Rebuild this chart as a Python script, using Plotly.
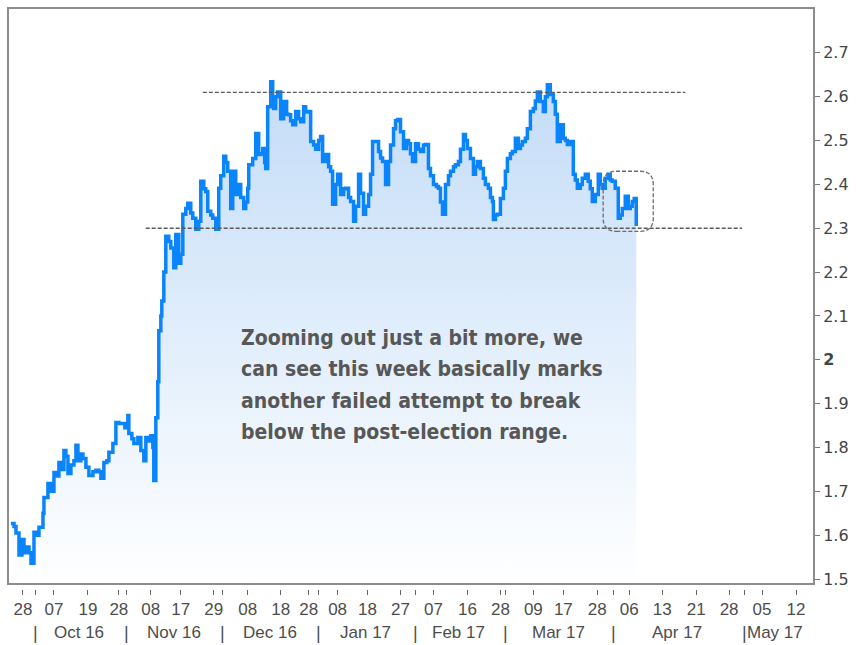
import plotly.graph_objects as go

# ---- data: US 10y yield, x = trading-session index from late Sep 2016 ----
sessions = [
    0.45, 1.14, 1.59, 2.27, 2.95, 3.41, 3.86, 4.55, 5.0, 5.68,
    6.14, 6.82, 7.73, 7.95, 8.86, 9.55, 10.23, 10.68, 11.36, 11.82,
    12.5, 12.95, 13.41, 14.09, 14.77, 15.23, 15.68, 16.36, 16.82, 17.5,
    18.18, 19.09, 19.77, 20.45, 20.91, 21.59, 22.27, 22.73, 23.64, 24.32,
    25.0, 25.45, 26.36, 27.05, 27.27, 27.95, 28.41, 29.32, 30.0, 30.68,
    31.14, 31.82, 32.27, 32.73, 32.95, 33.41, 33.86, 34.09, 34.55, 34.77,
    35.23, 35.68, 36.36, 36.82, 37.5, 37.95, 38.64, 39.09, 39.55, 40.23,
    40.68, 41.36, 41.82, 42.5, 43.18, 43.64, 44.32, 44.77, 45.23, 45.91,
    46.36, 47.05, 47.73, 48.18, 48.86, 49.32, 49.77, 50.45, 50.91, 51.59,
    52.27, 52.73, 53.41, 53.86, 54.32, 54.55, 55.45, 56.14, 56.82, 57.27,
    57.73, 58.18, 58.41, 58.86, 59.55, 60.0, 60.23, 60.68, 61.14, 61.82,
    62.5, 63.18, 63.64, 64.09, 64.55, 65.23, 65.91, 66.36, 67.05, 67.5,
    67.95, 68.64, 69.32, 69.77, 70.45, 70.91, 71.36, 72.05, 72.73, 73.18,
    73.64, 74.32, 74.77, 75.45, 76.14, 76.59, 77.27, 77.73, 78.41, 78.86,
    79.55, 80.0, 80.68, 81.14, 81.82, 82.27, 82.73, 83.41, 84.09, 84.55,
    85.0, 85.68, 86.36, 86.82, 87.5, 87.95, 88.41, 89.09, 89.77, 90.45,
    90.91, 91.36, 91.82, 92.5, 93.18, 93.64, 94.32, 94.77, 95.45, 95.91,
    96.59, 97.27, 97.73, 98.18, 98.64, 99.32, 100.0, 100.45, 101.14, 101.59,
    102.27, 102.73, 103.41, 103.86, 104.32, 105.0, 105.68, 106.14, 106.59, 107.27,
    107.95, 108.41, 109.09, 109.55, 110.0, 110.23, 110.68, 111.14, 111.82, 112.5,
    112.95, 113.41, 114.09, 114.55, 115.23, 115.91, 116.36, 116.82, 117.5, 117.95,
    118.64, 119.32, 119.77, 120.23, 120.91, 121.59, 122.05, 122.5, 123.18, 123.86,
    124.32, 124.77, 125.45, 126.14, 126.59, 127.05, 127.73, 128.41, 128.86, 129.32,
    130.0, 130.45, 131.14, 131.82, 132.27, 132.73, 133.41, 134.09, 134.55, 135.0,
    135.68, 136.36, 136.82, 137.27, 137.95, 138.64, 139.09, 139.55, 140.23, 140.91,
    141.36, 141.82, 142.27, 142.73,
]
yields = [
    1.627, 1.62, 1.605, 1.555, 1.59, 1.56, 1.573, 1.56, 1.536, 1.607,
    1.60, 1.618, 1.65, 1.686, 1.718, 1.70, 1.743, 1.735, 1.766, 1.75,
    1.793, 1.78, 1.741, 1.76, 1.77, 1.805, 1.77, 1.785, 1.775, 1.755,
    1.736, 1.745, 1.748, 1.745, 1.73, 1.766, 1.77, 1.789, 1.809, 1.857,
    1.855, 1.855, 1.845, 1.873, 1.832, 1.82, 1.809, 1.823, 1.793, 1.77,
    1.823, 1.815, 1.827, 1.80, 1.725, 1.868, 1.95, 2.066, 2.10, 2.134,
    2.2, 2.282, 2.27, 2.255, 2.21, 2.286, 2.22, 2.241, 2.332, 2.345,
    2.357, 2.335, 2.323, 2.298, 2.316, 2.407, 2.39, 2.384, 2.339, 2.33,
    2.323, 2.298, 2.391, 2.42, 2.464, 2.45, 2.43, 2.345, 2.43, 2.377,
    2.4, 2.37, 2.345, 2.36, 2.391, 2.445, 2.459, 2.516, 2.468, 2.47,
    2.482, 2.45, 2.436, 2.577, 2.634, 2.59, 2.573, 2.60, 2.611, 2.55,
    2.589, 2.56, 2.559, 2.545, 2.536, 2.566, 2.55, 2.543, 2.577, 2.565,
    2.566, 2.498, 2.49, 2.48, 2.50, 2.509, 2.452, 2.468, 2.44, 2.43,
    2.355, 2.40, 2.423, 2.377, 2.39, 2.391, 2.37, 2.361, 2.316, 2.35,
    2.423, 2.38, 2.332, 2.35, 2.377, 2.423, 2.498, 2.498, 2.475, 2.46,
    2.452, 2.40, 2.452, 2.49, 2.527, 2.545, 2.548, 2.52, 2.482, 2.50,
    2.493, 2.47, 2.452, 2.493, 2.48, 2.475, 2.49, 2.491, 2.436, 2.42,
    2.40, 2.395, 2.391, 2.36, 2.332, 2.40, 2.42, 2.43, 2.44, 2.445,
    2.452, 2.48, 2.514, 2.50, 2.482, 2.459, 2.423, 2.44, 2.452, 2.436,
    2.414, 2.40, 2.391, 2.37, 2.361, 2.32, 2.33, 2.332, 2.368, 2.391,
    2.43, 2.459, 2.47, 2.475, 2.505, 2.482, 2.49, 2.498, 2.505, 2.527,
    2.566, 2.573, 2.59, 2.611, 2.589, 2.566, 2.60, 2.627, 2.605, 2.589,
    2.56, 2.498, 2.536, 2.505, 2.50, 2.491, 2.498, 2.423, 2.41, 2.391,
    2.40, 2.414, 2.423, 2.407, 2.39, 2.361, 2.377, 2.423, 2.40, 2.391,
    2.414, 2.423, 2.41, 2.407, 2.391, 2.323, 2.33, 2.345, 2.373, 2.345,
    2.35, 2.361, 2.368, 2.305,
]
assert len(sessions) == len(yields)

# x-axis day ticks (session positions) and their labels
day_tick_sessions = [3.18, 10.23, 17.95, 25.0, 32.27, 39.09, 46.59, 54.32, 61.82,
                     68.18, 74.77, 81.59, 89.09, 96.59, 104.32, 111.82, 119.32,
                     126.14, 133.86, 141.14, 148.64, 156.36, 163.86, 171.36, 179.09]
day_tick_labels = ["28", "07", "19", "28", "08", "17", "29", "08", "18", "28", "08",
                   "18", "27", "07", "16", "28", "09", "17", "28", "06", "13", "21",
                   "28", "05", "12"]
# month boundaries and month labels
month_start_sessions = [6.14, 26.82, 48.64, 70.45, 92.5, 112.95, 137.5, 167.27]
month_label_sessions = [15.9, 37.5, 59.5, 81.1, 102.3, 125.0, 152.0, 174.2]
month_labels = ["Oct 16", "Nov 16", "Dec 16", "Jan 17", "Feb 17", "Mar 17", "Apr 17", "May 17"]

# y ticks
y_tick_vals = [1.5, 1.6, 1.7, 1.8, 1.9, 2.0, 2.1, 2.2, 2.3, 2.4, 2.5, 2.6, 2.7]
y_tick_text = ["1.5", "1.6", "1.7", "1.8", "1.9", "<b>2</b>", "2.1", "2.2", "2.3",
               "2.4", "2.5", "2.6", "2.7"]

# range levels (value, start session, end session)
range_levels = [2.61, 2.30]
range_starts = [44.1, 31.1]
range_ends = [153.9, 166.8]
# highlight box (sessions / yield)
box_x = [135.2, 146.6]
box_y = [2.293, 2.43]

X_RANGE = [0, 182.95]
Y_RANGE = [1.491, 2.8]

note_lines = ["Zooming out just a bit more, we",
              "can see this week basically marks",
              "another failed attempt to break",
              "below the post-election range."]
note_x = 52.3
note_line_y = [2.05, 1.978, 1.907, 1.836]

AX_FONT = "Liberation Sans Narrow, Arial Narrow, Liberation Sans, sans-serif"

fig = go.Figure()
fig.add_trace(go.Scatter(
    x=sessions, y=yields, mode="lines",
    line=dict(color="#0a84fb", width=3.5, shape="hv"),
    fill="tozeroy",
    fillgradient=dict(type="vertical",
                      colorscale=[[0, "#ffffff"], [1, "#c3dcf8"]],
                      start=1.49, stop=2.64),
    hoverinfo="skip", showlegend=False,
))
# helper trace so the tick axis is drawn
fig.add_trace(go.Scatter(x=sessions[:1], y=yields[:1], xaxis="x2", mode="none",
                         showlegend=False, hoverinfo="skip"))

shapes = []
for lvl, s0, s1 in zip(range_levels, range_starts, range_ends):
    shapes.append(dict(type="line", xref="x", yref="y", x0=s0, x1=s1, y0=lvl, y1=lvl,
                       line=dict(color="#5a5a5a", width=1.3, dash="4px,2px")))

# rounded rectangle path
x0, x1 = box_x
y0, y1 = box_y
rx = 3.0
ry = 0.03
path = (f"M {x0+rx},{y0} L {x1-rx},{y0} Q {x1},{y0} {x1},{y0+ry} "
        f"L {x1},{y1-ry} Q {x1},{y1} {x1-rx},{y1} L {x0+rx},{y1} "
        f"Q {x0},{y1} {x0},{y1-ry} L {x0},{y0+ry} Q {x0},{y0} {x0+rx},{y0} Z")
shapes.append(dict(type="path", xref="x", yref="y", path=path,
                   line=dict(color="#6a6a6a", width=1.3, dash="4px,2px")))

annotations = []
month_y = -0.0756
for s in month_start_sessions:
    annotations.append(dict(x=s, y=month_y, xref="x", yref="paper", text="|",
                            showarrow=False, yanchor="middle", xanchor="center",
                            font=dict(family=AX_FONT, size=18, color="#4d4d4d")))
for s, lab in zip(month_label_sessions, month_labels):
    annotations.append(dict(x=s, y=month_y, xref="x", yref="paper", text=lab,
                            showarrow=False, yanchor="middle", xanchor="center",
                            font=dict(family=AX_FONT, size=17, color="#4d4d4d")))
for line_text, ly in zip(note_lines, note_line_y):
    annotations.append(dict(x=note_x, y=ly, xref="x", yref="y", text=line_text,
                            showarrow=False, xanchor="left", yanchor="middle", align="left",
                            font=dict(family="DejaVu Sans Condensed, DejaVu Sans, sans-serif",
                                      size=21, color="#575757", weight="bold")))

tickvals2 = day_tick_sessions + month_start_sessions
ticktext2 = day_tick_labels + [""] * len(month_start_sessions)

fig.update_layout(
    width=858, height=645,
    margin=dict(l=8, r=45, t=7, b=56),
    plot_bgcolor="white", paper_bgcolor="white",
    showlegend=False, hovermode=False,
    shapes=shapes, annotations=annotations,
    xaxis=dict(range=X_RANGE, autorange=False, showgrid=False, zeroline=False,
               showline=True, mirror=True, linecolor="#8c8c8c", linewidth=2,
               ticks="", showticklabels=False, anchor="y"),
    xaxis2=dict(range=X_RANGE, autorange=False, overlaying="x", anchor="free", position=0,
                showgrid=False, zeroline=False, showline=False,
                tickmode="array", tickvals=tickvals2, ticktext=ticktext2,
                ticks="outside", ticklen=5, tickwidth=1, tickcolor="#666666",
                tickfont=dict(family=AX_FONT, size=17, color="#4d4d4d")),
    yaxis=dict(range=Y_RANGE, autorange=False, domain=[6 / 582, 1], side="right",
               showgrid=False, zeroline=False,
               showline=True, mirror=True, linecolor="#8c8c8c", linewidth=2,
               tickmode="array", tickvals=y_tick_vals, ticktext=y_tick_text,
               ticks="outside", ticklen=5, tickwidth=1, tickcolor="#777777",
               tickfont=dict(family="DejaVu Sans, sans-serif", size=16, color="#444444")),
)

fig.write_html("out.html", config={"displayModeBar": False},
               post_script="document.body.style.margin='0px';document.body.style.overflow='hidden';")
